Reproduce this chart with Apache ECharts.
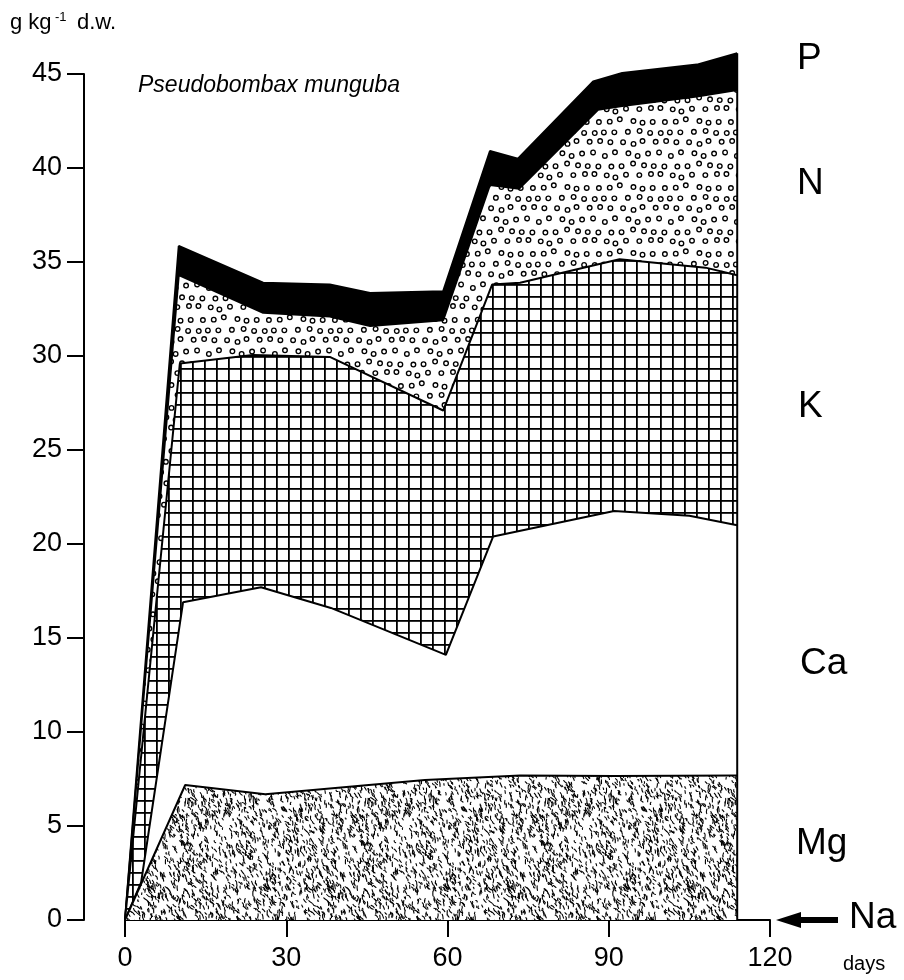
<!DOCTYPE html>
<html>
<head>
<meta charset="utf-8">
<script src="https://cdn.jsdelivr.net/npm/echarts@6/dist/echarts.min.js"></script>
<style>
html,body{margin:0;padding:0;background:#fff;}
#chart{width:904px;height:980px;}
</style>
</head>
<body>
<div id="chart"></div>
<script>
// Cumulative upper boundary of each nutrient layer (g kg-1 d.w.) vs. days
const pDays  = [0, 10.0, 25.7, 38.1, 45.6, 59.2, 67.9, 73.1, 87.1, 92.5, 106.4, 113.9];
const pTop   = [0, 35.85, 33.9, 33.8, 33.35, 33.45, 40.9, 40.5, 44.6, 45.05, 45.5, 46.1];

const nDays  = [0, 10.0, 25.7, 38.1, 45.6, 59.2, 67.9, 73.3, 88.0, 92.5, 106.4, 113.9];
const nTop   = [0, 34.3, 32.3, 32.1, 31.6, 31.9, 39.1, 38.9, 43.1, 43.3, 43.8, 44.15];

const kDays  = [0, 10.2, 23.8, 38.1, 59.2, 68.3, 73.5, 92.0, 108.0, 113.9];
const kTop   = [0, 29.6, 30.05, 29.95, 27.1, 33.8, 33.9, 35.15, 34.7, 34.3];

const caDays = [0, 3.0, 10.8, 25.3, 38.3, 59.7, 68.5, 91.0, 105.0, 113.9];
const caTop  = [0, 2.0, 16.9, 17.7, 16.6, 14.1, 20.4, 21.75, 21.5, 21.0];

const mgDays = [0, 11.2, 26.1, 55.8, 73.5, 91.0, 113.9];
const mgTop  = [0, 7.18, 6.69, 7.45, 7.68, 7.66, 7.68];

const layerNames = ['P', 'N', 'K', 'Ca', 'Mg'];
const xTicks = [0, 30, 60, 90, 120];
const yTicks = [0, 5, 10, 15, 20, 25, 30, 35, 40, 45];

function mulberry32(a){return function(){a|=0;a=a+0x6D2B79F5|0;let t=Math.imul(a^a>>>15,1|a);t=t+Math.imul(t^t>>>7,61|t)^t;return((t^t>>>14)>>>0)/4294967296;};}

function stippleTile(){
  const s=180,c=document.createElement('canvas');c.width=c.height=s;
  const g=c.getContext('2d');g.fillStyle='#fff';g.fillRect(0,0,s,s);
  g.strokeStyle='#000';g.lineWidth=1.1;g.lineCap='round';g.lineJoin='round';
  const r=mulberry32(11);
  for(let i=0;i<2000;i++){
    const x=r()*s,y=r()*s,len=1.5+r()*3.4,a=(35+r()*65)*Math.PI/180,bend=(r()-0.5)*2.2;
    const dx=Math.cos(a)*len,dy=Math.sin(a)*len;
    for(const ox of [-s,0,s])for(const oy of [-s,0,s]){
      g.beginPath();g.moveTo(x+ox,y+oy);
      g.quadraticCurveTo(x+ox+dx/2+bend,y+oy+dy/2-bend,x+ox+dx,y+oy+dy);g.stroke();
    }
  }
  return c;
}
function circleTile(){
  const s=66,c=document.createElement('canvas');c.width=c.height=s;
  const g=c.getContext('2d');g.fillStyle='#fff';g.fillRect(0,0,s,s);
  g.strokeStyle='#000';g.lineWidth=1.35;
  const r=mulberry32(5);
  for(let row=0;row<6;row++)for(let col=0;col<6;col++){
    const x=col*11+(row%2?5.5:0)+(r()-0.5)*4,y=row*11+(r()-0.5)*4;
    for(const ox of [-s,0,s])for(const oy of [-s,0,s]){
      g.beginPath();g.arc(x+ox,y+oy,2.3,0,Math.PI*2);g.stroke();
    }
  }
  return c;
}
function gridTile(){
  const s=12,c=document.createElement('canvas');c.width=c.height=s;
  const g=c.getContext('2d');g.fillStyle='#fff';g.fillRect(0,0,s,s);
  g.fillStyle='#000';g.fillRect(0,0,1.8,s);g.fillRect(0,8,s,1.8);
  return c;
}

const fills = {
  P: '#000',
  N: {image: circleTile(), repeat: 'repeat'},
  K: {image: gridTile(), repeat: 'repeat'},
  Ca: '#fff',
  Mg: {image: stippleTile(), repeat: 'repeat'}
};
const layers = [[pDays,pTop],[nDays,nTop],[kDays,kTop],[caDays,caTop],[mgDays,mgTop]];

const series = layers.map(([d,v],i)=>({
  name: layerNames[i], type:'line', z: 2+i, clip:false, symbol:'none', showSymbol:false,
  data: d.map((x,j)=>[x,v[j]]),
  lineStyle:{color:'#000',width:2},
  areaStyle:{color: fills[layerNames[i]], opacity:1, origin:0},
  silent:true, animation:false
}));
// closing right-hand edge of the stacked block, from the last sampling day
const lastDay = pDays[pDays.length-1];
series.push({
  name:'edge', type:'line', z:10, clip:false, symbol:'none', showSymbol:false, silent:true, animation:false,
  data:[[lastDay,0],[lastDay,pTop[pTop.length-1]]],
  lineStyle:{color:'#000',width:2}
});

const F = 'Liberation Sans, Arial, sans-serif';
const chart = echarts.init(document.getElementById('chart'), null, {renderer:'canvas'});
chart.setOption({
  backgroundColor:'#fff',
  animation:false,
  grid:{left:125, right:134, top:74, bottom:60, containLabel:false},
  xAxis:{type:'value', min:xTicks[0], max:xTicks[xTicks.length-1], interval:30,
    axisLine:{show:true, onZero:false, lineStyle:{color:'#000', width:2}},
    axisTick:{show:true, length:17, lineStyle:{color:'#000', width:2}},
    axisLabel:{color:'#000', fontSize:27, fontFamily:F, margin:25},
    splitLine:{show:false}},
  yAxis:{type:'value', min:yTicks[0], max:yTicks[yTicks.length-1], interval:5, offset:41,
    axisLine:{show:true, onZero:false, lineStyle:{color:'#000', width:2}},
    axisTick:{show:true, length:17, lineStyle:{color:'#000', width:2}},
    axisLabel:{color:'#000', fontSize:27, fontFamily:F, margin:22},
    splitLine:{show:false}},
  series: series,
  graphic:[
    {type:'text', x:10, y:23, style:{text:'g kg', fontSize:22, fontFamily:F, fill:'#000', verticalAlign:'middle'}},
    {type:'text', x:55, y:17, style:{text:'-1', fontSize:13, fontFamily:F, fill:'#000', verticalAlign:'middle'}},
    {type:'text', x:77, y:23, style:{text:'d.w.', fontSize:22, fontFamily:F, fill:'#000', verticalAlign:'middle'}},
    {type:'text', x:138, y:86, style:{text:'Pseudobombax munguba', fontSize:23, fontStyle:'italic', fontFamily:F, fill:'#000', verticalAlign:'middle'}},
    {type:'text', x:797, y:59, style:{text:'P', fontSize:37, fontFamily:F, fill:'#000', verticalAlign:'middle'}},
    {type:'text', x:797, y:184, style:{text:'N', fontSize:37, fontFamily:F, fill:'#000', verticalAlign:'middle'}},
    {type:'text', x:798, y:407, style:{text:'K', fontSize:37, fontFamily:F, fill:'#000', verticalAlign:'middle'}},
    {type:'text', x:800, y:664, style:{text:'Ca', fontSize:37, fontFamily:F, fill:'#000', verticalAlign:'middle'}},
    {type:'text', x:796, y:844, style:{text:'Mg', fontSize:37, fontFamily:F, fill:'#000', verticalAlign:'middle'}},
    {type:'text', x:849, y:918, style:{text:'Na', fontSize:37, fontFamily:F, fill:'#000', verticalAlign:'middle'}},
    {type:'polygon', shape:{points:[[776,920],[801,912],[801,928]]}, style:{fill:'#000'}},
    {type:'rect', shape:{x:799, y:917, width:39, height:6}, style:{fill:'#000'}},
    {type:'text', x:843, y:964, style:{text:'days', fontSize:20, fontFamily:F, fill:'#000', verticalAlign:'middle'}}
  ]
});
</script>
</body>
</html>
